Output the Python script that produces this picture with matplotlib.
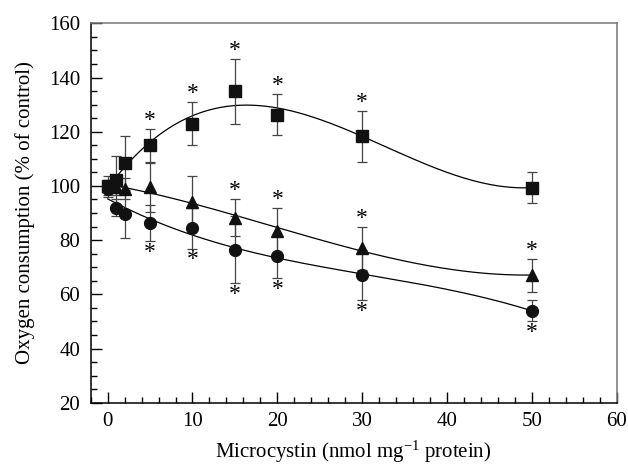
import numpy as np
import matplotlib
matplotlib.use("Agg")
import matplotlib.pyplot as plt
from matplotlib.ticker import MultipleLocator

plt.rcParams["font.family"] = ["Liberation Serif", "DejaVu Serif"]
plt.rcParams["mathtext.fontset"] = "custom"
plt.rcParams["mathtext.rm"] = "Liberation Serif"
plt.rcParams["mathtext.it"] = "Liberation Serif:italic"

# microcystin dose (nmol / mg protein)
dose = [0, 1, 2, 5, 10, 15, 20, 30, 50]

# squares
sq_mean = [100, 102, 108.5, 115, 123, 135, 126.3, 118.3, 99.4]
sq_err = [3.5, 9, 10, 6, 8, 12, 7.7, 9.3, 5.8]
sq_sig = [0, 0, 0, 1, 1, 1, 1, 1, 0]

# triangles
tri_mean = [100, 99.5, 99, 99.5, 94.2, 88.3, 83.2, 77, 67]
tri_err = [2, 3, 4, 9, 9.5, 6.8, 8.8, 8, 6]
tri_sig = [0, 0, 0, 0, 0, 1, 1, 1, 1]

# circles
cir_mean = [99, 92, 89.5, 86.2, 84.3, 76.5, 74, 67, 54]
cir_err = [3, 3, 8.8, 6.6, 7.4, 12.4, 8, 9.2, 3.9]
cir_sig = [0, 0, 0, 1, 1, 1, 1, 1, 1]

xlabel = r"Microcystin (nmol mg$^{-1}$ protein)"
ylabel = "Oxygen consumption (% of control)"

fig = plt.figure(figsize=(6.28, 4.66), dpi=100)
ax = fig.add_axes([0.1444, 0.1358, 0.8376, 0.8142])

x = np.array(dose, dtype=float)
xs = np.linspace(0, 50, 200)

# (mean, err, significance, marker, size, star above?)
series = [
    (sq_mean, sq_err, sq_sig, "s", 9, True),
    (tri_mean, tri_err, tri_sig, "^", 9, True),
    (cir_mean, cir_err, cir_sig, "o", 8.5, False),
]

for mean, err, sig, mk, ms, above in series:
    m = np.array(mean)
    e = np.array(err)
    # fitted curve
    coef = np.polyfit(x, m, 3)
    ax.plot(xs, np.polyval(coef, xs), color="black", lw=0.9, zorder=2)
    ax.errorbar(x, m, yerr=e, fmt="none", ecolor="#444444", elinewidth=0.9,
                capsize=3.5, capthick=0.9, zorder=3)
    ax.plot(x, m, linestyle="none", marker=mk, markersize=ms,
            color="#111111", zorder=4)
    for xi, mi, ei, s in zip(x, m, e, sig):
        if not s:
            continue
        if above:
            ax.annotate("*", (xi, mi + ei), xytext=(0, -1.5), textcoords="offset points",
                        ha="center", va="bottom", fontsize=17)
        else:
            ax.annotate("*", (xi, mi - ei), xytext=(0, -0.5), textcoords="offset points",
                        ha="center", va="top", fontsize=17)

ax.set_xlim(-2, 60)
ax.set_ylim(20, 160)
ax.xaxis.set_major_locator(MultipleLocator(10))
ax.xaxis.set_minor_locator(MultipleLocator(2))
ax.yaxis.set_major_locator(MultipleLocator(20))
ax.yaxis.set_minor_locator(MultipleLocator(5))
ax.tick_params(which="both", direction="in", top=False, right=False, labelsize=15)
ax.tick_params(which="major", length=8, width=1)
ax.tick_params(which="minor", length=4.5, width=1)
ax.tick_params(axis="y", pad=7.5)
ax.tick_params(axis="x", pad=6.5)

ax.spines["left"].set_color("black")
ax.spines["bottom"].set_color("black")
ax.spines["top"].set_color("#777777")
ax.spines["right"].set_color("#777777")
for s in ax.spines.values():
    s.set_linewidth(1.1)

ax.set_xlabel(xlabel, fontsize=15, labelpad=6)
ax.set_ylabel(ylabel, fontsize=15, labelpad=10)

fig.savefig("out.png", dpi=100)
